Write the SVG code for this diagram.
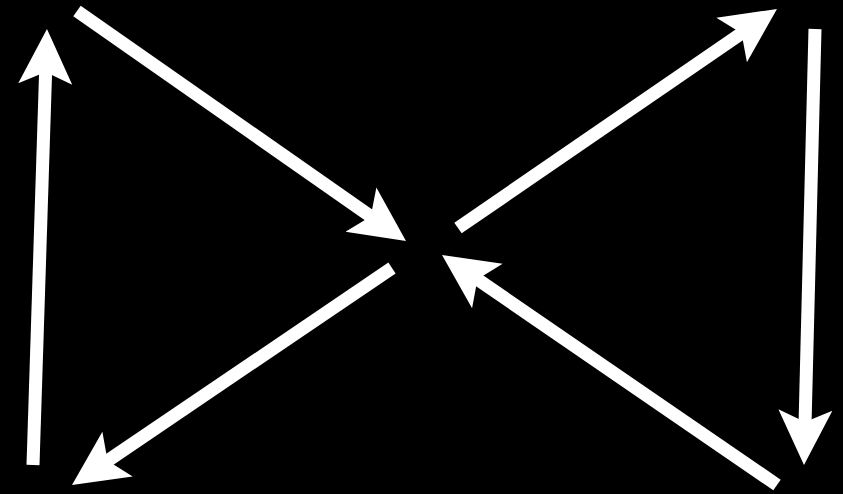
<svg xmlns="http://www.w3.org/2000/svg" width="843" height="494" viewBox="0 0 843 494">
<style>
.c{stroke:#fff;stroke-width:13;fill:none;marker-end:url(#ah)}
</style>
<defs>
<marker id="ah" markerUnits="userSpaceOnUse" markerWidth="56" markerHeight="56" refX="15" refY="27" orient="auto" viewBox="0 0 56 54">
<path d="M55,27 L0,0 L12,27 L0,54 Z" fill="#fff"/>
</marker>
</defs>
<rect width="843" height="494" fill="#000"/>
<g id="connectors">
<line class="c" x1="33" y1="465" x2="45.7" y2="69"/>
<line class="c" x1="77" y1="11" x2="373.2" y2="218.1"/>
<line class="c" x1="458" y1="228" x2="744" y2="31.6"/>
<line class="c" x1="815" y1="29" x2="805" y2="425"/>
<line class="c" x1="777" y1="485" x2="475" y2="277.6"/>
<line class="c" x1="392" y1="268" x2="105.1" y2="462.5"/>
</g>
</svg>
